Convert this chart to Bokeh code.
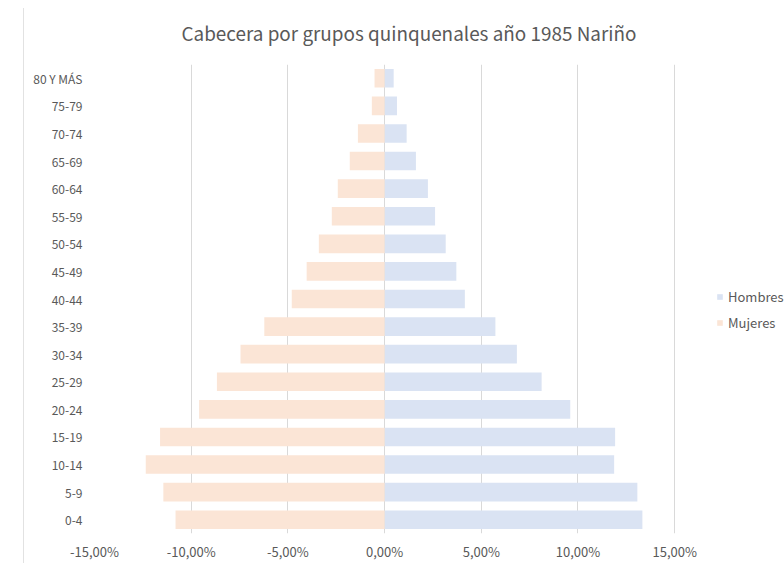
from bokeh.plotting import figure
from bokeh.models import FactorRange, Range1d, FixedTicker, Legend, LegendItem, ColumnDataSource
from bokeh.embed import file_html
from bokeh.resources import INLINE

# ---- data (bottom to top) ----
groups = ["0-4", "5-9", "10-14", "15-19", "20-24", "25-29", "30-34", "35-39",
          "40-44", "45-49", "50-54", "55-59", "60-64", "65-69", "70-74", "75-79", "80 Y MÁS"]
hombres = [13.33, 13.07, 11.87, 11.92, 9.60, 8.12, 6.84, 5.73,
           4.15, 3.71, 3.16, 2.61, 2.24, 1.62, 1.14, 0.64, 0.47]
mujeres = [10.81, 11.44, 12.35, 11.61, 9.59, 8.67, 7.45, 6.22,
           4.80, 4.03, 3.40, 2.73, 2.42, 1.80, 1.38, 0.66, 0.52]
tick_values = [-15, -10, -5, 0, 5, 10, 15]
tick_labels = ["-15,00%", "-10,00%", "-5,00%", "0,00%", "5,00%", "10,00%", "15,00%"]
series_names = ["Hombres", "Mujeres"]
title_text = "Cabecera por grupos quinquenales año 1985 Nariño"

FONT = "Noto Sans CJK JP"
TXT = "#595959"
C_H = "#DAE3F3"
C_M = "#FBE5D6"

src = ColumnDataSource(dict(
    g=groups,
    h=hombres,
    m=[-v for v in mujeres],
    zero=[0] * len(groups),
))

p = figure(
    width=762, height=563,
    y_range=FactorRange(factors=groups),
    x_range=Range1d(-15, 20.73),
    output_backend="svg", toolbar_location=None,
    min_border_left=71, min_border_right=0, min_border_top=64, min_border_bottom=29,
)
p.margin = (0, 0, 0, 22)
p.styles = {
    "border-left": "1px solid transparent",
    "background": "linear-gradient(#d9d9d9, #d9d9d9) no-repeat left 0 top 8px / 1px 100%",
}
p.outline_line_color = None
p.background_fill_color = "white"
p.border_fill_color = "white"

r_h = p.hbar(y="g", left="zero", right="h", height=0.675, source=src,
             fill_color=C_H, line_color=None)
r_m = p.hbar(y="g", left="m", right="zero", height=0.675, source=src,
             fill_color=C_M, line_color=None)

# title
p.title.text = title_text
p.title.align = "left"
p.title.vertical_align = "top"
p.title.offset = 87
p.title.standoff = 34
p.title.text_font = FONT
p.title.text_font_size = "18.9px"
p.title.text_font_style = "normal"
p.title.text_color = TXT

# x axis
p.xaxis.ticker = FixedTicker(ticks=tick_values)
p.xaxis.major_label_overrides = {v: s for v, s in zip(tick_values, tick_labels)}
p.xaxis.axis_line_color = None
p.xaxis.major_tick_line_color = None
p.xaxis.major_tick_out = 0
p.xaxis.major_tick_in = 0
p.xaxis.minor_tick_line_color = None
p.xaxis.minor_tick_out = 0
p.xaxis.major_label_standoff = 8
p.xaxis.major_label_text_font = FONT
p.xaxis.major_label_text_font_size = "13px"
p.xaxis.major_label_text_color = TXT

# y axis
p.yaxis.axis_line_color = None
p.yaxis.major_tick_line_color = None
p.yaxis.major_tick_out = 0
p.yaxis.major_tick_in = 0
p.yaxis.major_label_standoff = 12
p.yaxis.major_label_text_font = FONT
p.yaxis.major_label_text_font_size = "12px"
p.yaxis.major_label_text_color = TXT

# grid
p.xgrid.ticker = FixedTicker(ticks=tick_values)
p.xgrid.grid_line_color = "#d9d9d9"
p.xgrid.grid_line_width = 1
p.ygrid.grid_line_color = None

legend = Legend(
    items=[LegendItem(label=series_names[0], renderers=[r_h]),
           LegendItem(label=series_names[1], renderers=[r_m])],
    location=(622, 201),
    glyph_width=7, glyph_height=7, label_standoff=5,
    label_height=18, spacing=7, padding=0, margin=0,
    label_text_font=FONT, label_text_font_size="13px", label_text_color=TXT,
    border_line_color=None, background_fill_alpha=0,
)
p.add_layout(legend)

open("out.html", "w").write(file_html(p, INLINE))
